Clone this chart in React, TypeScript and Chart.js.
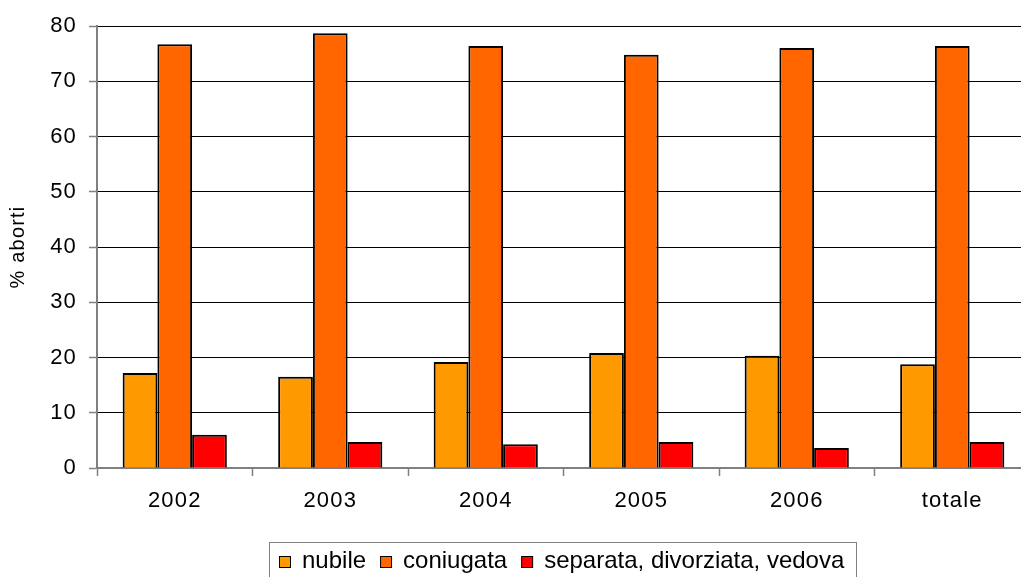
import React, { useEffect, useRef } from 'react';
import { Chart, registerables } from 'chart.js';

Chart.register(...registerables);

const categories = ['2002', '2003', '2004', '2005', '2006', 'totale'];
const nubile = [17.2, 16.5, 19.2, 20.8, 20.3, 18.8];
const coniugata = [76.7, 78.7, 76.4, 74.8, 76.0, 76.4];
const separata = [6.0, 4.7, 4.3, 4.7, 3.6, 4.7];
const seriesLabels = ['nubile', 'coniugata', 'separata, divorziata, vedova'];
const seriesColors = ['#FF9900', '#FF6600', '#FF0000'];
const yTitle = '% aborti';

const FONT = '"Liberation Sans", Arial, sans-serif';
const SPACING = '1.2px';

const spacingPlugin = {
  id: 'spacing',
  beforeDraw(chart: any) {
    chart.ctx.letterSpacing = SPACING;
  },
  beforeDatasetsDraw(chart: any) {
    chart.ctx.letterSpacing = '0px';
  },
};

const legendPlugin = {
  id: 'boxLegend',
  afterDraw(chart: any) {
    const ctx = chart.ctx;
    ctx.save();
    const boxL = 269.5;
    const boxT = 542.5;
    const boxW = 587;
    ctx.fillStyle = '#ffffff';
    ctx.fillRect(boxL, boxT, boxW, 45);
    ctx.strokeStyle = '#808080';
    ctx.lineWidth = 1;
    ctx.strokeRect(boxL, boxT, boxW, 45);
    ctx.font = `24px ${FONT}`;
    ctx.letterSpacing = '0px';
    ctx.textBaseline = 'alphabetic';
    ctx.textAlign = 'left';
    let x = 279;
    const sqTop = 556;
    const baseline = 568;
    chart.data.datasets.forEach((ds: any) => {
      ctx.fillStyle = ds.backgroundColor;
      ctx.fillRect(x + 0.5, sqTop + 0.5, 11, 11);
      ctx.strokeStyle = '#000';
      ctx.lineWidth = 1;
      ctx.strokeRect(x + 0.5, sqTop + 0.5, 11, 11);
      ctx.fillStyle = '#000';
      ctx.fillText(ds.label, x + 23, baseline);
      const w = ctx.measureText(ds.label).width;
      x += 23 + w + 14;
    });
    ctx.restore();
  },
};

export default function App() {
  const ref = useRef<HTMLCanvasElement>(null);
  useEffect(() => {
    if (!ref.current) return;
    const datasets = [nubile, coniugata, separata].map((d, i) => ({
      label: seriesLabels[i],
      data: d,
      backgroundColor: seriesColors[i],
      borderColor: '#000000',
      borderWidth: 2,
      categoryPercentage: 0.67,
      barPercentage: 1.0,
    }));
    const chart = new Chart(ref.current, {
      type: 'bar',
      data: { labels: categories, datasets },
      options: {
        animation: false,
        responsive: false,
        devicePixelRatio: 1,
        layout: { padding: { top: 26, left: 0, right: 0, bottom: 0 } },
        plugins: {
          legend: { display: false },
          tooltip: { enabled: false },
        },
        scales: {
          x: {
            grid: {
              display: true,
              drawOnChartArea: false,
              drawTicks: true,
              tickLength: 8,
              tickColor: '#808080',
              tickWidth: 1.5,
              offset: true,
            },
            border: { display: true, color: '#808080', width: 2 },
            ticks: {
              color: '#000',
              font: { family: FONT, size: 22 },
              padding: 12,
              maxRotation: 0,
            },
            afterFit: (s: any) => {
              s.height = 109;
            },
          },
          y: {
            min: 0,
            max: 80,
            ticks: {
              stepSize: 10,
              color: '#000',
              font: { family: FONT, size: 22 },
              padding: 12,
            },
            grid: {
              color: '#000000',
              lineWidth: 1,
              drawTicks: true,
              tickLength: 8,
              tickColor: '#808080',
              tickWidth: 1.5,
            },
            border: { display: true, color: '#808080', width: 2 },
            title: {
              display: true,
              text: yTitle,
              color: '#000',
              font: { family: FONT, size: 20 },
              padding: { top: 6, bottom: 0 },
            },
            afterFit: (s: any) => {
              s.width = 97;
            },
          },
        },
      },
      plugins: [spacingPlugin, legendPlugin],
    });
    return () => chart.destroy();
  }, []);
  return (
    <div
      style={{
        position: 'fixed',
        left: 0,
        top: 0,
        width: 1021,
        height: 577,
        overflow: 'hidden',
        background: '#fff',
      }}
    >
      <canvas ref={ref} width={1030} height={577} style={{ display: 'block' }} />
    </div>
  );
}
